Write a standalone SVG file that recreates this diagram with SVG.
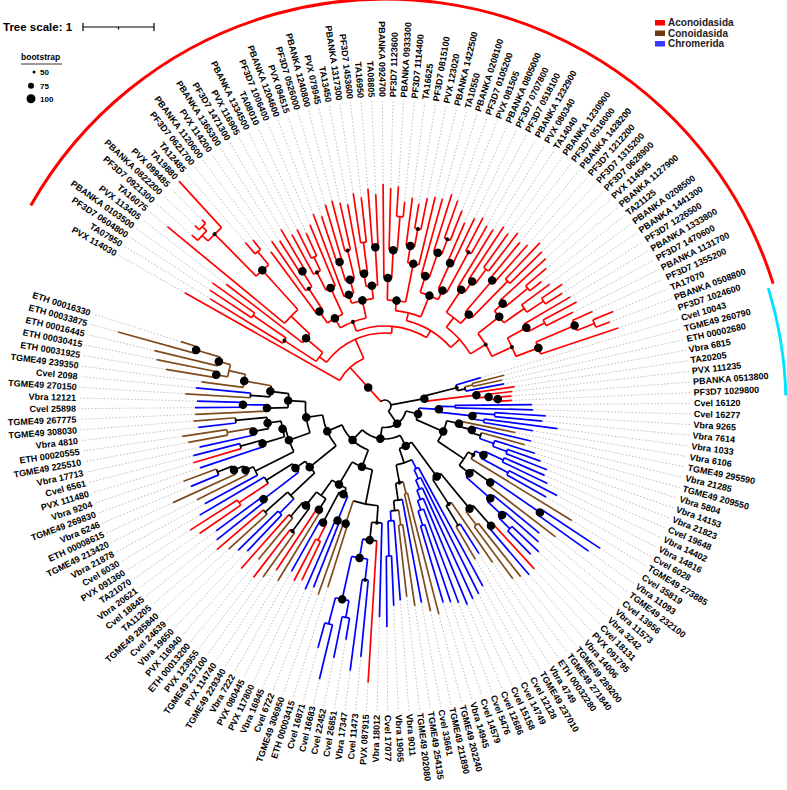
<svg xmlns="http://www.w3.org/2000/svg" width="787" height="790" viewBox="0 0 787 790">
<style>
#connectors path,#connectors circle{fill:none;stroke-width:1.7}
.k{stroke:#000}.r{stroke:#f00}.b{stroke:#00f}.n{stroke:#7f4a1c}
.d{fill:none;stroke:#a6a6a6;stroke-width:.7;stroke-dasharray:1.5 1.9}
text{font-family:"Liberation Sans",Arial,sans-serif;font-weight:bold;fill:#000}
#leaves text{font-size:9px}
.l{text-anchor:end}
.lg{font-size:10px;fill:#222}
</style>
<rect width="787" height="790" fill="#fff"/>
<g id="legend">
<text x="3" y="31" font-size="11.5">Tree scale: 1</text>
<path d="M83 27H154M83 23V31M154 23V31M118.5 27V29.5" stroke="#000" stroke-width="1.2" fill="none"/>
<text x="21" y="60" font-size="8.5">bootstrap</text>
<path d="M21 64H62" stroke="#000" stroke-width=".8"/>
<circle cx="34" cy="72" r="1.5"/><circle cx="31" cy="85.7" r="3"/><circle cx="31" cy="98.7" r="4.5"/>
<text x="40" y="75" font-size="8">50</text><text x="40" y="89" font-size="8">75</text><text x="40" y="102" font-size="8">100</text>
<rect x="655" y="20" width="10" height="5.5" fill="#f00"/><text class="lg" x="668" y="25.5">Aconoidasida</text>
<rect x="655" y="30.5" width="10" height="5.5" fill="#6b3a12"/><text class="lg" x="668" y="36.5">Conoidasida</text>
<rect x="655" y="41" width="10" height="5.5" fill="#3a3aff"/><text class="lg" x="668" y="47">Chromerida</text>
</g>
<g id="clade-arcs" transform="translate(385,406)" fill="none" stroke-width="3">
<circle r="407" pathLength="360" stroke-dasharray="133 360" transform="rotate(209.5)" stroke="#f00"/>
<circle r="401" pathLength="360" stroke-dasharray="15.6 360" transform="rotate(342.9)" stroke="#00e5ff"/>
</g>
<g id="connectors" transform="translate(385,406)">
<g class="r">
<path d="M6 0H52" transform="rotate(227.75)"/><path d="M52 0H230" transform="rotate(209.5)"/><path d="M52 0H73" transform="rotate(246)"/><path d="M73 0H82" transform="rotate(216.8)"/><path d="M82 0H120" transform="rotate(213)"/><path d="M120 0H205" transform="rotate(211.5)"/><path d="M120 0H160" transform="rotate(214.5)"/><path d="M160 0H210" transform="rotate(213.5)"/><path d="M160 0H212" transform="rotate(215.5)"/><path d="M82 0H104" transform="rotate(220.6)"/><path d="M104 0H200" transform="rotate(217.5)"/><path d="M104 0H130" transform="rotate(223.7)"/><path d="M130 0H282" transform="rotate(219.5)"/><path d="M130 0H183" transform="rotate(227.9)"/><path d="M183 0H242" transform="rotate(225.25)"/><path d="M242 0H250" transform="rotate(223)"/><path d="M250 0H258" transform="rotate(221.5)"/><path d="M250 0H256" transform="rotate(224.5)"/><path d="M256 0H262" transform="rotate(223.5)"/><path d="M256 0H261" transform="rotate(225.5)"/><path d="M242 0H305" transform="rotate(227.5)"/><path d="M183 0H200" transform="rotate(230.5)"/><path d="M200 0H215" transform="rotate(229.5)"/><path d="M200 0H212" transform="rotate(231.5)"/>
<path d="M73 0H80" transform="rotate(275.15)"/><path d="M80 0H90" transform="rotate(249.1)"/><path d="M90 0H101" transform="rotate(240.25)"/><path d="M101 0H115" transform="rotate(235.25)"/><path d="M115 0H192" transform="rotate(233.5)"/><path d="M115 0H140" transform="rotate(237)"/><path d="M140 0H200" transform="rotate(235.5)"/><path d="M140 0H158" transform="rotate(238.5)"/><path d="M158 0H196" transform="rotate(237.5)"/><path d="M158 0H205" transform="rotate(239.5)"/><path d="M101 0H130" transform="rotate(245.25)"/><path d="M130 0H150" transform="rotate(243)"/><path d="M150 0H195" transform="rotate(241.5)"/><path d="M150 0H165" transform="rotate(244.5)"/><path d="M165 0H197" transform="rotate(243.5)"/><path d="M165 0H190" transform="rotate(245.5)"/><path d="M130 0H196" transform="rotate(247.5)"/>
<path d="M90 0H108" transform="rotate(257.9)"/><path d="M108 0H117" transform="rotate(252)"/><path d="M117 0H205" transform="rotate(249.5)"/><path d="M117 0H131" transform="rotate(254.5)"/><path d="M131 0H151" transform="rotate(252.5)"/><path d="M151 0H200" transform="rotate(251.5)"/><path d="M151 0H210" transform="rotate(253.5)"/><path d="M131 0H160" transform="rotate(256.5)"/><path d="M160 0H212" transform="rotate(255.5)"/><path d="M160 0H208" transform="rotate(257.5)"/><path d="M108 0H121" transform="rotate(263.75)"/><path d="M121 0H134" transform="rotate(261)"/><path d="M134 0H205" transform="rotate(259.5)"/><path d="M134 0H165" transform="rotate(262.5)"/><path d="M165 0H215" transform="rotate(261.5)"/><path d="M165 0H210" transform="rotate(263.5)"/><path d="M121 0H159" transform="rotate(266.5)"/><path d="M159 0H218" transform="rotate(265.5)"/><path d="M159 0H212" transform="rotate(267.5)"/>
<path d="M80 0H88" transform="rotate(301.2)"/><path d="M88 0H96" transform="rotate(284.1)"/><path d="M96 0H106" transform="rotate(276.25)"/><path d="M106 0H128" transform="rotate(271.25)"/><path d="M128 0H222" transform="rotate(269.5)"/><path d="M128 0H156" transform="rotate(273)"/><path d="M156 0H218" transform="rotate(271.5)"/><path d="M156 0H190" transform="rotate(274.5)"/><path d="M190 0H220" transform="rotate(273.5)"/><path d="M190 0H205" transform="rotate(275.5)"/><path d="M106 0H145" transform="rotate(281.25)"/><path d="M145 0H162" transform="rotate(279)"/><path d="M162 0H210" transform="rotate(277.5)"/><path d="M162 0H180" transform="rotate(280.5)"/><path d="M180 0H205" transform="rotate(279.5)"/><path d="M180 0H212" transform="rotate(281.5)"/><path d="M145 0H215" transform="rotate(283.5)"/>
<path d="M96 0H119" transform="rotate(291.9)"/><path d="M119 0H136" transform="rotate(287.25)"/><path d="M136 0H215" transform="rotate(285.5)"/><path d="M136 0H162" transform="rotate(289)"/><path d="M162 0H222" transform="rotate(287.5)"/><path d="M162 0H178" transform="rotate(290.5)"/><path d="M178 0H218" transform="rotate(289.5)"/><path d="M178 0H210" transform="rotate(291.5)"/><path d="M119 0H129" transform="rotate(296.5)"/><path d="M129 0H157" transform="rotate(294.5)"/><path d="M157 0H200" transform="rotate(293.5)"/><path d="M157 0H208" transform="rotate(295.5)"/><path d="M129 0H175" transform="rotate(298.5)"/><path d="M175 0H212" transform="rotate(297.5)"/><path d="M175 0H207" transform="rotate(299.5)"/>
<path d="M88 0H100" transform="rotate(318.25)"/><path d="M100 0H112" transform="rotate(307.9)"/><path d="M112 0H139" transform="rotate(303.25)"/><path d="M139 0H207" transform="rotate(301.5)"/><path d="M139 0H152" transform="rotate(305)"/><path d="M152 0H215" transform="rotate(303.5)"/><path d="M152 0H170" transform="rotate(306.5)"/><path d="M170 0H212" transform="rotate(305.5)"/><path d="M170 0H218" transform="rotate(307.5)"/><path d="M112 0H124" transform="rotate(312.5)"/><path d="M124 0H165" transform="rotate(310.5)"/><path d="M165 0H212" transform="rotate(309.5)"/><path d="M165 0H215" transform="rotate(311.5)"/><path d="M124 0H175" transform="rotate(314.5)"/><path d="M175 0H225" transform="rotate(313.5)"/><path d="M175 0H220" transform="rotate(315.5)"/>
<path d="M100 0H118" transform="rotate(328.6)"/><path d="M118 0H145" transform="rotate(322)"/><path d="M145 0H156" transform="rotate(319)"/><path d="M156 0H218" transform="rotate(317.5)"/><path d="M156 0H185" transform="rotate(320.5)"/><path d="M185 0H212" transform="rotate(319.5)"/><path d="M185 0H200" transform="rotate(321.5)"/><path d="M145 0H170" transform="rotate(325)"/><path d="M170 0H205" transform="rotate(323.5)"/><path d="M170 0H190" transform="rotate(326.5)"/><path d="M190 0H215" transform="rotate(325.5)"/><path d="M190 0H210" transform="rotate(327.5)"/><path d="M118 0H140" transform="rotate(335.1)"/><path d="M140 0H161.5" transform="rotate(331)"/><path d="M161.5 0H215" transform="rotate(329.5)"/><path d="M161.5 0H180" transform="rotate(332.5)"/><path d="M180 0H218" transform="rotate(331.5)"/><path d="M180 0H210" transform="rotate(333.5)"/><path d="M140 0H164" transform="rotate(339.25)"/><path d="M164 0H206" transform="rotate(337)"/><path d="M206 0H228" transform="rotate(335.5)"/><path d="M206 0H225" transform="rotate(338.5)"/><path d="M225 0H247" transform="rotate(337.5)"/><path d="M225 0H240" transform="rotate(339.5)"/><path d="M164 0H246" transform="rotate(341.5)"/>
<path d="M40 0H92" transform="rotate(353.25)"/><path d="M92 0H131" transform="rotate(351.5)"/><path d="M92 0H104" transform="rotate(355)"/><path d="M104 0H128" transform="rotate(353.5)"/><path d="M104 0H113" transform="rotate(356.5)"/><path d="M113 0H127" transform="rotate(355.5)"/><path d="M113 0H127" transform="rotate(357.5)"/>
<path d="M160 0H221" transform="rotate(47.5)"/><path d="M135 0H277" transform="rotate(93.5)"/><path d="M132 0H150" transform="rotate(116.5)"/><path d="M150 0H193" transform="rotate(115.5)"/><path d="M150 0H197" transform="rotate(117.5)"/><path d="M123 0H197" transform="rotate(123.5)"/><path d="M155.6 0H216" transform="rotate(127.5)"/><path d="M145 0H217" transform="rotate(131.5)"/><path d="M160 0H221" transform="rotate(139.5)"/><path d="M140 0H175" transform="rotate(146.5)"/><path d="M175 0H225" transform="rotate(145.5)"/><path d="M175 0H231" transform="rotate(147.5)"/><path d="M150 0H200" transform="rotate(163.5)"/>
<circle r="52" pathLength="360" stroke-dasharray="36.5 360" transform="rotate(209.5)"/><circle r="73" pathLength="360" stroke-dasharray="58.35 360" transform="rotate(216.8)"/><circle r="82" pathLength="360" stroke-dasharray="7.6 360" transform="rotate(213)"/><circle r="120" pathLength="360" stroke-dasharray="3 360" transform="rotate(211.5)"/><circle r="160" pathLength="360" stroke-dasharray="2 360" transform="rotate(213.5)"/><circle r="104" pathLength="360" stroke-dasharray="6.2 360" transform="rotate(217.5)"/><circle r="130" pathLength="360" stroke-dasharray="8.4 360" transform="rotate(219.5)"/><circle r="183" pathLength="360" stroke-dasharray="5.25 360" transform="rotate(225.25)"/><circle r="242" pathLength="360" stroke-dasharray="4.5 360" transform="rotate(223)"/><circle r="250" pathLength="360" stroke-dasharray="3 360" transform="rotate(221.5)"/><circle r="256" pathLength="360" stroke-dasharray="2 360" transform="rotate(223.5)"/><circle r="200" pathLength="360" stroke-dasharray="2 360" transform="rotate(229.5)"/>
<circle r="80" pathLength="360" stroke-dasharray="52.1 360" transform="rotate(249.1)"/><circle r="90" pathLength="360" stroke-dasharray="17.65 360" transform="rotate(240.25)"/><circle r="101" pathLength="360" stroke-dasharray="10 360" transform="rotate(235.25)"/><circle r="115" pathLength="360" stroke-dasharray="3.5 360" transform="rotate(233.5)"/><circle r="140" pathLength="360" stroke-dasharray="3 360" transform="rotate(235.5)"/><circle r="158" pathLength="360" stroke-dasharray="2 360" transform="rotate(237.5)"/><circle r="130" pathLength="360" stroke-dasharray="4.5 360" transform="rotate(243)"/><circle r="150" pathLength="360" stroke-dasharray="3 360" transform="rotate(241.5)"/><circle r="165" pathLength="360" stroke-dasharray="2 360" transform="rotate(243.5)"/><circle r="108" pathLength="360" stroke-dasharray="11.75 360" transform="rotate(252)"/><circle r="117" pathLength="360" stroke-dasharray="5 360" transform="rotate(249.5)"/><circle r="131" pathLength="360" stroke-dasharray="4 360" transform="rotate(252.5)"/><circle r="151" pathLength="360" stroke-dasharray="2 360" transform="rotate(251.5)"/><circle r="160" pathLength="360" stroke-dasharray="2 360" transform="rotate(255.5)"/><circle r="121" pathLength="360" stroke-dasharray="5.5 360" transform="rotate(261)"/><circle r="134" pathLength="360" stroke-dasharray="3 360" transform="rotate(259.5)"/><circle r="165" pathLength="360" stroke-dasharray="2 360" transform="rotate(261.5)"/><circle r="159" pathLength="360" stroke-dasharray="2 360" transform="rotate(265.5)"/>
<circle r="88" pathLength="360" stroke-dasharray="34.15 360" transform="rotate(284.1)"/><circle r="96" pathLength="360" stroke-dasharray="15.65 360" transform="rotate(276.25)"/><circle r="106" pathLength="360" stroke-dasharray="10 360" transform="rotate(271.25)"/><circle r="128" pathLength="360" stroke-dasharray="3.5 360" transform="rotate(269.5)"/><circle r="156" pathLength="360" stroke-dasharray="3 360" transform="rotate(271.5)"/><circle r="190" pathLength="360" stroke-dasharray="2 360" transform="rotate(273.5)"/><circle r="145" pathLength="360" stroke-dasharray="4.5 360" transform="rotate(279)"/><circle r="162" pathLength="360" stroke-dasharray="3 360" transform="rotate(277.5)"/><circle r="180" pathLength="360" stroke-dasharray="2 360" transform="rotate(279.5)"/><circle r="119" pathLength="360" stroke-dasharray="9.25 360" transform="rotate(287.25)"/><circle r="136" pathLength="360" stroke-dasharray="3.5 360" transform="rotate(285.5)"/><circle r="162" pathLength="360" stroke-dasharray="3 360" transform="rotate(287.5)"/><circle r="178" pathLength="360" stroke-dasharray="2 360" transform="rotate(289.5)"/><circle r="129" pathLength="360" stroke-dasharray="4 360" transform="rotate(294.5)"/><circle r="157" pathLength="360" stroke-dasharray="2 360" transform="rotate(293.5)"/><circle r="175" pathLength="360" stroke-dasharray="2 360" transform="rotate(297.5)"/>
<circle r="100" pathLength="360" stroke-dasharray="20.7 360" transform="rotate(307.9)"/><circle r="112" pathLength="360" stroke-dasharray="9.25 360" transform="rotate(303.25)"/><circle r="139" pathLength="360" stroke-dasharray="3.5 360" transform="rotate(301.5)"/><circle r="152" pathLength="360" stroke-dasharray="3 360" transform="rotate(303.5)"/><circle r="170" pathLength="360" stroke-dasharray="2 360" transform="rotate(305.5)"/><circle r="124" pathLength="360" stroke-dasharray="4 360" transform="rotate(310.5)"/><circle r="165" pathLength="360" stroke-dasharray="2 360" transform="rotate(309.5)"/><circle r="175" pathLength="360" stroke-dasharray="2 360" transform="rotate(313.5)"/><circle r="118" pathLength="360" stroke-dasharray="13.1 360" transform="rotate(322)"/><circle r="145" pathLength="360" stroke-dasharray="6 360" transform="rotate(319)"/><circle r="156" pathLength="360" stroke-dasharray="3 360" transform="rotate(317.5)"/><circle r="185" pathLength="360" stroke-dasharray="2 360" transform="rotate(319.5)"/><circle r="170" pathLength="360" stroke-dasharray="3 360" transform="rotate(323.5)"/><circle r="190" pathLength="360" stroke-dasharray="2 360" transform="rotate(325.5)"/><circle r="140" pathLength="360" stroke-dasharray="8.25 360" transform="rotate(331)"/><circle r="161.5" pathLength="360" stroke-dasharray="3 360" transform="rotate(329.5)"/><circle r="180" pathLength="360" stroke-dasharray="2 360" transform="rotate(331.5)"/><circle r="164" pathLength="360" stroke-dasharray="4.5 360" transform="rotate(337)"/><circle r="206" pathLength="360" stroke-dasharray="3 360" transform="rotate(335.5)"/><circle r="225" pathLength="360" stroke-dasharray="2 360" transform="rotate(337.5)"/>
<circle r="92" pathLength="360" stroke-dasharray="3.5 360" transform="rotate(351.5)"/><circle r="104" pathLength="360" stroke-dasharray="3 360" transform="rotate(353.5)"/><circle r="113" pathLength="360" stroke-dasharray="2 360" transform="rotate(355.5)"/><circle r="150" pathLength="360" stroke-dasharray="2 360" transform="rotate(115.5)"/><circle r="175" pathLength="360" stroke-dasharray="2 360" transform="rotate(145.5)"/>
</g>
<g class="k">
<path d="M6 0H40" transform="rotate(349.5)"/><path d="M40 0H74" transform="rotate(345.75)"/><path d="M74 0H82" transform="rotate(348)"/><path d="M6 0H21.5" transform="rotate(55.8)"/><path d="M21.5 0H34" transform="rotate(13.55)"/><path d="M34 0H63.5" transform="rotate(23.6)"/><path d="M63.5 0H76" transform="rotate(13.45)"/><path d="M76 0H90" transform="rotate(15.4)"/><path d="M90 0H100" transform="rotate(17.25)"/><path d="M63.5 0H95" transform="rotate(33.8)"/><path d="M95 0H101" transform="rotate(29)"/><path d="M95 0H108" transform="rotate(38.6)"/><path d="M108 0H130" transform="rotate(36)"/>
<path d="M21.5 0H33" transform="rotate(98.1)"/><path d="M33 0H45" transform="rotate(62.6)"/><path d="M45 0H87.5" transform="rotate(53.75)"/><path d="M87.5 0H133" transform="rotate(50.5)"/><path d="M133 0H160" transform="rotate(48.5)"/><path d="M87.5 0H117" transform="rotate(57)"/><path d="M117 0H140" transform="rotate(58.5)"/><path d="M45 0H60" transform="rotate(71.4)"/><path d="M60 0H78" transform="rotate(79.3)"/><path d="M78 0H95" transform="rotate(82.1)"/><path d="M95 0H105" transform="rotate(84.75)"/>
<path d="M33 0H47" transform="rotate(133.6)"/><path d="M47 0H65" transform="rotate(110.8)"/><path d="M65 0H100" transform="rotate(101.25)"/><path d="M100 0H117" transform="rotate(94)"/><path d="M117 0H135" transform="rotate(96.5)"/><path d="M65 0H91" transform="rotate(120.4)"/><path d="M91 0H97.5" transform="rotate(115.25)"/><path d="M97.5 0H132" transform="rotate(118)"/><path d="M91 0H110" transform="rotate(125.5)"/><path d="M110 0H123" transform="rotate(122.5)"/><path d="M110 0H127" transform="rotate(128.5)"/><path d="M127 0H155.6" transform="rotate(126.5)"/><path d="M127 0H145" transform="rotate(130.5)"/>
<path d="M47 0H63" transform="rotate(156.35)"/><path d="M63 0H97" transform="rotate(140.9)"/><path d="M97 0H130" transform="rotate(136.5)"/><path d="M130 0H160" transform="rotate(138.5)"/><path d="M97 0H109" transform="rotate(145.25)"/><path d="M109 0H140" transform="rotate(148)"/><path d="M63 0H79.6" transform="rotate(171.8)"/><path d="M79.6 0H102" transform="rotate(160.4)"/><path d="M102 0H145" transform="rotate(153.4)"/><path d="M145 0H153.5" transform="rotate(155.25)"/><path d="M153.5 0H164" transform="rotate(157)"/><path d="M164 0H180" transform="rotate(158.5)"/><path d="M102 0H105" transform="rotate(167.4)"/><path d="M105 0H128" transform="rotate(163)"/><path d="M128 0H150" transform="rotate(164.5)"/><path d="M105 0H118.6" transform="rotate(171.75)"/><path d="M118.6 0H134" transform="rotate(169)"/><path d="M118.6 0H150" transform="rotate(174.5)"/><path d="M79.6 0H97" transform="rotate(183.2)"/><path d="M97 0H118" transform="rotate(179)"/><path d="M97 0H115.6" transform="rotate(187.3)"/><path d="M115.6 0H135" transform="rotate(184.5)"/>
<circle r="6" pathLength="360" stroke-dasharray="188.05 360" transform="rotate(227.75)"/><circle r="40" pathLength="360" stroke-dasharray="7.5 360" transform="rotate(345.75)"/><circle r="74" pathLength="360" stroke-dasharray="4.5 360" transform="rotate(343.5)"/><circle r="82" pathLength="360" stroke-dasharray="3 360" transform="rotate(346.5)"/><circle r="21.5" pathLength="360" stroke-dasharray="84.55 360" transform="rotate(13.55)"/><circle r="34" pathLength="360" stroke-dasharray="20.1 360" transform="rotate(3.5)"/><circle r="63.5" pathLength="360" stroke-dasharray="20.35 360" transform="rotate(13.45)"/><circle r="76" pathLength="360" stroke-dasharray="3.9 360" transform="rotate(11.5)"/><circle r="90" pathLength="360" stroke-dasharray="3.75 360" transform="rotate(13.5)"/><circle r="100" pathLength="360" stroke-dasharray="3.5 360" transform="rotate(15.5)"/><circle r="95" pathLength="360" stroke-dasharray="9.6 360" transform="rotate(29)"/><circle r="101" pathLength="360" stroke-dasharray="5 360" transform="rotate(26.5)"/><circle r="108" pathLength="360" stroke-dasharray="5.25 360" transform="rotate(36)"/><circle r="130" pathLength="360" stroke-dasharray="3 360" transform="rotate(34.5)"/>
<circle r="33" pathLength="360" stroke-dasharray="71 360" transform="rotate(62.6)"/><circle r="45" pathLength="360" stroke-dasharray="17.65 360" transform="rotate(53.75)"/><circle r="87.5" pathLength="360" stroke-dasharray="6.5 360" transform="rotate(50.5)"/><circle r="133" pathLength="360" stroke-dasharray="4 360" transform="rotate(48.5)"/><circle r="160" pathLength="360" stroke-dasharray="2 360" transform="rotate(47.5)"/><circle r="117" pathLength="360" stroke-dasharray="3 360" transform="rotate(55.5)"/><circle r="140" pathLength="360" stroke-dasharray="2 360" transform="rotate(57.5)"/><circle r="60" pathLength="360" stroke-dasharray="15.8 360" transform="rotate(63.5)"/><circle r="78" pathLength="360" stroke-dasharray="5.6 360" transform="rotate(76.5)"/><circle r="95" pathLength="360" stroke-dasharray="5.25 360" transform="rotate(79.5)"/><circle r="105" pathLength="360" stroke-dasharray="4.5 360" transform="rotate(82.5)"/>
<circle r="47" pathLength="360" stroke-dasharray="45.55 360" transform="rotate(110.8)"/><circle r="65" pathLength="360" stroke-dasharray="19.15 360" transform="rotate(101.25)"/><circle r="100" pathLength="360" stroke-dasharray="14.5 360" transform="rotate(94)"/><circle r="117" pathLength="360" stroke-dasharray="5 360" transform="rotate(91.5)"/><circle r="135" pathLength="360" stroke-dasharray="6 360" transform="rotate(93.5)"/><circle r="91" pathLength="360" stroke-dasharray="10.25 360" transform="rotate(115.25)"/><circle r="97.5" pathLength="360" stroke-dasharray="5.5 360" transform="rotate(112.5)"/><circle r="132" pathLength="360" stroke-dasharray="3 360" transform="rotate(116.5)"/><circle r="110" pathLength="360" stroke-dasharray="6 360" transform="rotate(122.5)"/><circle r="123" pathLength="360" stroke-dasharray="2 360" transform="rotate(121.5)"/><circle r="127" pathLength="360" stroke-dasharray="4 360" transform="rotate(126.5)"/><circle r="155.6" pathLength="360" stroke-dasharray="2 360" transform="rotate(125.5)"/><circle r="145" pathLength="360" stroke-dasharray="2 360" transform="rotate(129.5)"/>
<circle r="63" pathLength="360" stroke-dasharray="30.9 360" transform="rotate(140.9)"/><circle r="97" pathLength="360" stroke-dasharray="8.75 360" transform="rotate(136.5)"/><circle r="130" pathLength="360" stroke-dasharray="4 360" transform="rotate(134.5)"/><circle r="160" pathLength="360" stroke-dasharray="2 360" transform="rotate(137.5)"/><circle r="109" pathLength="360" stroke-dasharray="5.5 360" transform="rotate(142.5)"/><circle r="140" pathLength="360" stroke-dasharray="3 360" transform="rotate(146.5)"/><circle r="79.6" pathLength="360" stroke-dasharray="22.8 360" transform="rotate(160.4)"/><circle r="102" pathLength="360" stroke-dasharray="14 360" transform="rotate(153.4)"/><circle r="145" pathLength="360" stroke-dasharray="3.75 360" transform="rotate(151.5)"/><circle r="153.5" pathLength="360" stroke-dasharray="3.5 360" transform="rotate(153.5)"/><circle r="164" pathLength="360" stroke-dasharray="3 360" transform="rotate(155.5)"/><circle r="180" pathLength="360" stroke-dasharray="2 360" transform="rotate(157.5)"/><circle r="105" pathLength="360" stroke-dasharray="8.75 360" transform="rotate(163)"/><circle r="128" pathLength="360" stroke-dasharray="3 360" transform="rotate(161.5)"/><circle r="150" pathLength="360" stroke-dasharray="2 360" transform="rotate(163.5)"/><circle r="118.6" pathLength="360" stroke-dasharray="5.5 360" transform="rotate(169)"/><circle r="134" pathLength="360" stroke-dasharray="3 360" transform="rotate(167.5)"/><circle r="150" pathLength="360" stroke-dasharray="2 360" transform="rotate(173.5)"/><circle r="97" pathLength="360" stroke-dasharray="8.3 360" transform="rotate(179)"/><circle r="118" pathLength="360" stroke-dasharray="3 360" transform="rotate(177.5)"/><circle r="115.6" pathLength="360" stroke-dasharray="5.6 360" transform="rotate(184.5)"/><circle r="135" pathLength="360" stroke-dasharray="2 360" transform="rotate(183.5)"/>
</g>
<g class="b">
<path d="M74 0H100" transform="rotate(343.5)"/><path d="M82 0H121" transform="rotate(349.5)"/><path d="M34 0H54" transform="rotate(3.5)"/><path d="M54 0H70" transform="rotate(0.5)"/><path d="M70 0H147" transform="rotate(359.5)"/><path d="M70 0H148" transform="rotate(1.5)"/><path d="M54 0H88" transform="rotate(6.5)"/><path d="M88 0H110" transform="rotate(4.5)"/><path d="M110 0H161" transform="rotate(3.5)"/><path d="M110 0H158" transform="rotate(5.5)"/><path d="M88 0H100" transform="rotate(8.5)"/><path d="M100 0H174" transform="rotate(7.5)"/><path d="M100 0H150" transform="rotate(9.5)"/><path d="M90 0H150" transform="rotate(13.5)"/><path d="M100 0H115" transform="rotate(19)"/><path d="M115 0H157" transform="rotate(17.5)"/><path d="M115 0H130" transform="rotate(20.5)"/><path d="M130 0H165" transform="rotate(19.5)"/><path d="M130 0H174" transform="rotate(21.5)"/>
<path d="M101 0H110" transform="rotate(26.5)"/><path d="M110 0H130" transform="rotate(24.5)"/><path d="M130 0H174" transform="rotate(23.5)"/><path d="M130 0H180" transform="rotate(25.5)"/><path d="M110 0H140" transform="rotate(28.5)"/><path d="M140 0H194" transform="rotate(27.5)"/><path d="M140 0H185" transform="rotate(29.5)"/><path d="M130 0H188" transform="rotate(34.5)"/><path d="M188 0H258" transform="rotate(33.5)"/><path d="M188 0H250" transform="rotate(35.5)"/><path d="M108 0H140" transform="rotate(41.25)"/><path d="M140 0H200" transform="rotate(39.5)"/><path d="M140 0H160" transform="rotate(43)"/><path d="M160 0H205" transform="rotate(41.5)"/><path d="M160 0H175" transform="rotate(44.5)"/><path d="M175 0H212" transform="rotate(43.5)"/><path d="M175 0H208" transform="rotate(45.5)"/>
<path d="M160 0H222" transform="rotate(49.5)"/><path d="M140 0H175" transform="rotate(57.5)"/><path d="M60 0H70" transform="rotate(63.5)"/><path d="M70 0H205" transform="rotate(61.5)"/><path d="M70 0H80" transform="rotate(65.4)"/><path d="M80 0H210" transform="rotate(63.5)"/><path d="M80 0H90" transform="rotate(67.4)"/><path d="M90 0H212" transform="rotate(65.5)"/><path d="M90 0H100" transform="rotate(69.25)"/><path d="M100 0H215" transform="rotate(67.5)"/><path d="M100 0H110" transform="rotate(71)"/><path d="M110 0H210" transform="rotate(69.5)"/><path d="M110 0H125" transform="rotate(72.5)"/><path d="M125 0H207" transform="rotate(71.5)"/><path d="M125 0H205" transform="rotate(73.5)"/><path d="M95 0H200" transform="rotate(79.5)"/><path d="M105 0H115" transform="rotate(87)"/><path d="M115 0H195" transform="rotate(85.5)"/><path d="M115 0H150" transform="rotate(88.5)"/><path d="M150 0H200" transform="rotate(87.5)"/><path d="M150 0H221" transform="rotate(89.5)"/>
<path d="M117 0H211" transform="rotate(91.5)"/><path d="M135 0H154" transform="rotate(99.5)"/><path d="M154 0H175" transform="rotate(96.5)"/><path d="M175 0H252" transform="rotate(95.5)"/><path d="M175 0H267" transform="rotate(97.5)"/><path d="M154 0H198" transform="rotate(102.5)"/><path d="M198 0H215" transform="rotate(100.5)"/><path d="M215 0H237" transform="rotate(99.5)"/><path d="M215 0H257" transform="rotate(101.5)"/><path d="M198 0H225" transform="rotate(104.5)"/><path d="M225 0H281" transform="rotate(103.5)"/><path d="M225 0H251" transform="rotate(105.5)"/><path d="M97.5 0H124" transform="rotate(112.5)"/><path d="M124 0H195" transform="rotate(111.5)"/><path d="M124 0H200" transform="rotate(113.5)"/><path d="M132 0H190" transform="rotate(119.5)"/>
<path d="M130 0H150" transform="rotate(134.5)"/><path d="M150 0H200" transform="rotate(133.5)"/><path d="M150 0H206" transform="rotate(135.5)"/><path d="M109 0H153" transform="rotate(142.5)"/><path d="M153 0H215" transform="rotate(141.5)"/><path d="M153 0H210" transform="rotate(143.5)"/><path d="M140 0H215" transform="rotate(149.5)"/><path d="M145 0H205" transform="rotate(151.5)"/><path d="M180 0H210" transform="rotate(157.5)"/><path d="M128 0H195" transform="rotate(161.5)"/><path d="M150 0H198" transform="rotate(165.5)"/><path d="M134 0H190" transform="rotate(167.5)"/><path d="M150 0H188" transform="rotate(173.5)"/><path d="M118 0H142" transform="rotate(180.5)"/><path d="M142 0H190" transform="rotate(179.5)"/><path d="M142 0H188" transform="rotate(181.5)"/><path d="M135 0H190" transform="rotate(185.5)"/>
<circle r="54" pathLength="360" stroke-dasharray="6 360" transform="rotate(0.5)"/><circle r="70" pathLength="360" stroke-dasharray="2 360" transform="rotate(359.5)"/><circle r="88" pathLength="360" stroke-dasharray="4 360" transform="rotate(4.5)"/><circle r="110" pathLength="360" stroke-dasharray="2 360" transform="rotate(3.5)"/><circle r="100" pathLength="360" stroke-dasharray="2 360" transform="rotate(7.5)"/><circle r="115" pathLength="360" stroke-dasharray="3 360" transform="rotate(17.5)"/><circle r="130" pathLength="360" stroke-dasharray="2 360" transform="rotate(19.5)"/><circle r="110" pathLength="360" stroke-dasharray="4 360" transform="rotate(24.5)"/><circle r="130" pathLength="360" stroke-dasharray="2 360" transform="rotate(23.5)"/><circle r="140" pathLength="360" stroke-dasharray="2 360" transform="rotate(27.5)"/><circle r="188" pathLength="360" stroke-dasharray="2 360" transform="rotate(33.5)"/><circle r="140" pathLength="360" stroke-dasharray="3.5 360" transform="rotate(39.5)"/><circle r="160" pathLength="360" stroke-dasharray="3 360" transform="rotate(41.5)"/><circle r="175" pathLength="360" stroke-dasharray="2 360" transform="rotate(43.5)"/>
<circle r="70" pathLength="360" stroke-dasharray="3.9 360" transform="rotate(61.5)"/><circle r="80" pathLength="360" stroke-dasharray="3.9 360" transform="rotate(63.5)"/><circle r="90" pathLength="360" stroke-dasharray="3.75 360" transform="rotate(65.5)"/><circle r="100" pathLength="360" stroke-dasharray="3.5 360" transform="rotate(67.5)"/><circle r="110" pathLength="360" stroke-dasharray="3 360" transform="rotate(69.5)"/><circle r="125" pathLength="360" stroke-dasharray="2 360" transform="rotate(71.5)"/><circle r="115" pathLength="360" stroke-dasharray="3 360" transform="rotate(85.5)"/><circle r="150" pathLength="360" stroke-dasharray="2 360" transform="rotate(87.5)"/><circle r="154" pathLength="360" stroke-dasharray="6 360" transform="rotate(96.5)"/><circle r="175" pathLength="360" stroke-dasharray="2 360" transform="rotate(95.5)"/><circle r="198" pathLength="360" stroke-dasharray="4 360" transform="rotate(100.5)"/><circle r="215" pathLength="360" stroke-dasharray="2 360" transform="rotate(99.5)"/><circle r="225" pathLength="360" stroke-dasharray="2 360" transform="rotate(103.5)"/><circle r="124" pathLength="360" stroke-dasharray="2 360" transform="rotate(111.5)"/><circle r="150" pathLength="360" stroke-dasharray="2 360" transform="rotate(133.5)"/><circle r="153" pathLength="360" stroke-dasharray="2 360" transform="rotate(141.5)"/><circle r="142" pathLength="360" stroke-dasharray="2 360" transform="rotate(179.5)"/>
</g>
<g class="n">
<path d="M82 0H90" transform="rotate(346.5)"/><path d="M90 0H123" transform="rotate(345.5)"/><path d="M90 0H120" transform="rotate(347.5)"/><path d="M76 0H133" transform="rotate(11.5)"/><path d="M100 0H145" transform="rotate(15.5)"/><path d="M101 0H219" transform="rotate(31.5)"/><path d="M130 0H215" transform="rotate(37.5)"/><path d="M133 0H150" transform="rotate(52.5)"/><path d="M150 0H218" transform="rotate(51.5)"/><path d="M150 0H215" transform="rotate(53.5)"/><path d="M117 0H190" transform="rotate(55.5)"/><path d="M140 0H178" transform="rotate(59.5)"/><path d="M78 0H90" transform="rotate(76.5)"/><path d="M90 0H215" transform="rotate(75.5)"/><path d="M90 0H210" transform="rotate(77.5)"/><path d="M105 0H120" transform="rotate(82.5)"/><path d="M120 0H202" transform="rotate(81.5)"/><path d="M120 0H192" transform="rotate(83.5)"/>
<path d="M100 0H124" transform="rotate(108.5)"/><path d="M124 0H190" transform="rotate(107.5)"/><path d="M124 0H200" transform="rotate(109.5)"/><path d="M123 0H205" transform="rotate(121.5)"/><path d="M155.6 0H210" transform="rotate(125.5)"/><path d="M145 0H199" transform="rotate(129.5)"/><path d="M160 0H212" transform="rotate(137.5)"/><path d="M153.5 0H210" transform="rotate(153.5)"/><path d="M164 0H233" transform="rotate(155.5)"/><path d="M180 0H215" transform="rotate(159.5)"/><path d="M134 0H160" transform="rotate(170.5)"/><path d="M160 0H200" transform="rotate(169.5)"/><path d="M160 0H205" transform="rotate(171.5)"/><path d="M150 0H192" transform="rotate(175.5)"/><path d="M118 0H190" transform="rotate(177.5)"/><path d="M135 0H200" transform="rotate(183.5)"/><path d="M115.6 0H143" transform="rotate(190.1)"/><path d="M143 0H185" transform="rotate(187.5)"/><path d="M143 0H160" transform="rotate(192.75)"/><path d="M160 0H171.6" transform="rotate(190.5)"/><path d="M171.6 0H222" transform="rotate(189.5)"/><path d="M171.6 0H233" transform="rotate(191.5)"/><path d="M160 0H172" transform="rotate(195)"/><path d="M172 0H237" transform="rotate(193.5)"/><path d="M172 0H197" transform="rotate(196.5)"/><path d="M197 0H277" transform="rotate(195.5)"/><path d="M197 0H214" transform="rotate(197.5)"/>
<circle r="90" pathLength="360" stroke-dasharray="2 360" transform="rotate(345.5)"/><circle r="150" pathLength="360" stroke-dasharray="2 360" transform="rotate(51.5)"/><circle r="90" pathLength="360" stroke-dasharray="2 360" transform="rotate(75.5)"/><circle r="120" pathLength="360" stroke-dasharray="2 360" transform="rotate(81.5)"/><circle r="124" pathLength="360" stroke-dasharray="2 360" transform="rotate(107.5)"/><circle r="160" pathLength="360" stroke-dasharray="2 360" transform="rotate(169.5)"/><circle r="143" pathLength="360" stroke-dasharray="5.25 360" transform="rotate(187.5)"/><circle r="160" pathLength="360" stroke-dasharray="4.5 360" transform="rotate(190.5)"/><circle r="171.6" pathLength="360" stroke-dasharray="2 360" transform="rotate(189.5)"/><circle r="172" pathLength="360" stroke-dasharray="3 360" transform="rotate(193.5)"/><circle r="197" pathLength="360" stroke-dasharray="2 360" transform="rotate(195.5)"/>
</g>
</g>
<g id="bootstrap" transform="translate(385,406)" fill="#000">
<circle cx="25" r="4.3" transform="rotate(227.75)"/><circle cx="104" r="4.3" transform="rotate(220.6)"/><circle cx="183" r="4.3" transform="rotate(227.9)"/><circle cx="101" r="4.3" transform="rotate(240.25)"/><circle cx="115" r="4.3" transform="rotate(235.25)"/><circle cx="158" r="4.3" transform="rotate(238.5)"/><circle cx="130" r="4.3" transform="rotate(245.25)"/><circle cx="108" r="4.3" transform="rotate(257.9)"/><circle cx="117" r="4.3" transform="rotate(252)"/><circle cx="131" r="4.3" transform="rotate(254.5)"/><circle cx="151" r="4.3" transform="rotate(252.5)"/><circle cx="121" r="4.3" transform="rotate(263.75)"/><circle cx="134" r="4.3" transform="rotate(261)"/><circle cx="159" r="4.3" transform="rotate(266.5)"/><circle cx="106" r="4.3" transform="rotate(276.25)"/><circle cx="128" r="4.3" transform="rotate(271.25)"/><circle cx="156" r="4.3" transform="rotate(273)"/><circle cx="145" r="4.3" transform="rotate(281.25)"/><circle cx="162" r="4.3" transform="rotate(279)"/><circle cx="119" r="4.3" transform="rotate(291.9)"/><circle cx="136" r="4.3" transform="rotate(287.25)"/><circle cx="162" r="4.3" transform="rotate(289)"/><circle cx="129" r="4.3" transform="rotate(296.5)"/><circle cx="157" r="4.3" transform="rotate(294.5)"/><circle cx="139" r="4.3" transform="rotate(303.25)"/><circle cx="152" r="4.3" transform="rotate(305)"/><circle cx="124" r="4.3" transform="rotate(312.5)"/><circle cx="165" r="4.3" transform="rotate(310.5)"/><circle cx="145" r="4.3" transform="rotate(322)"/><circle cx="156" r="4.3" transform="rotate(319)"/><circle cx="161.5" r="4.3" transform="rotate(331)"/><circle cx="164" r="4.3" transform="rotate(339.25)"/><circle cx="206" r="4.3" transform="rotate(337)"/>
<circle cx="242" r="2" transform="rotate(225.25)"/><circle cx="120" r="2" transform="rotate(213)"/><circle cx="150" r="2" transform="rotate(243)"/><circle cx="140" r="2" transform="rotate(237)"/><circle cx="160" r="2" transform="rotate(256.5)"/><circle cx="90" r="2" transform="rotate(249.1)"/><circle cx="180" r="2" transform="rotate(280.5)"/><circle cx="175" r="2" transform="rotate(298.5)"/><circle cx="178" r="2" transform="rotate(290.5)"/><circle cx="118" r="2" transform="rotate(328.6)"/><circle cx="140" r="2" transform="rotate(335.1)"/>
<circle cx="40" r="4.3" transform="rotate(349.5)"/><circle cx="92" r="4.3" transform="rotate(353.25)"/><circle cx="104" r="4.3" transform="rotate(355)"/><circle cx="113" r="4.3" transform="rotate(356.5)"/><circle cx="74" r="2" transform="rotate(345.75)"/>
<circle cx="21.5" r="4.3" transform="rotate(55.8)"/><circle cx="34" r="4.3" transform="rotate(13.55)"/><circle cx="54" r="4.3" transform="rotate(3.5)"/><circle cx="88" r="4.3" transform="rotate(6.5)"/><circle cx="63.5" r="4.3" transform="rotate(23.6)"/><circle cx="76" r="4.3" transform="rotate(13.45)"/><circle cx="90" r="4.3" transform="rotate(15.4)"/><circle cx="110" r="4.3" transform="rotate(26.5)"/><circle cx="108" r="4.3" transform="rotate(38.6)"/><circle cx="130" r="4.3" transform="rotate(36)"/><circle cx="188" r="4.3" transform="rotate(34.5)"/><circle cx="140" r="4.3" transform="rotate(41.25)"/><circle cx="160" r="4.3" transform="rotate(43)"/><circle cx="101" r="2" transform="rotate(29)"/>
<circle cx="33" r="4.3" transform="rotate(98.1)"/><circle cx="45" r="4.3" transform="rotate(62.6)"/><circle cx="87.5" r="4.3" transform="rotate(53.75)"/><circle cx="133" r="4.3" transform="rotate(50.5)"/><circle cx="160" r="4.3" transform="rotate(48.5)"/><circle cx="117" r="2" transform="rotate(57)"/><circle cx="78" r="2" transform="rotate(79.3)"/>
<circle cx="47" r="4.3" transform="rotate(133.6)"/><circle cx="65" r="4.3" transform="rotate(110.8)"/><circle cx="135" r="4.3" transform="rotate(96.5)"/><circle cx="154" r="4.3" transform="rotate(99.5)"/><circle cx="198" r="4.3" transform="rotate(102.5)"/><circle cx="124" r="4.3" transform="rotate(108.5)"/><circle cx="91" r="4.3" transform="rotate(120.4)"/><circle cx="97.5" r="4.3" transform="rotate(115.25)"/><circle cx="124" r="4.3" transform="rotate(112.5)"/><circle cx="132" r="4.3" transform="rotate(118)"/><circle cx="123" r="4.3" transform="rotate(122.5)"/><circle cx="127" r="4.3" transform="rotate(128.5)"/><circle cx="117" r="2" transform="rotate(94)"/><circle cx="175" r="2" transform="rotate(96.5)"/><circle cx="155.6" r="2" transform="rotate(126.5)"/>
<circle cx="63" r="4.3" transform="rotate(156.35)"/><circle cx="97" r="4.3" transform="rotate(140.9)"/><circle cx="109" r="4.3" transform="rotate(145.25)"/><circle cx="153" r="4.3" transform="rotate(142.5)"/><circle cx="79.6" r="4.3" transform="rotate(171.8)"/><circle cx="102" r="4.3" transform="rotate(160.4)"/><circle cx="153.5" r="4.3" transform="rotate(155.25)"/><circle cx="164" r="4.3" transform="rotate(157)"/><circle cx="105" r="4.3" transform="rotate(167.4)"/><circle cx="128" r="4.3" transform="rotate(163)"/><circle cx="118.6" r="4.3" transform="rotate(171.75)"/><circle cx="134" r="4.3" transform="rotate(169)"/><circle cx="97" r="4.3" transform="rotate(183.2)"/><circle cx="118" r="4.3" transform="rotate(179)"/><circle cx="142" r="4.3" transform="rotate(180.5)"/><circle cx="115.6" r="4.3" transform="rotate(187.3)"/><circle cx="143" r="4.3" transform="rotate(190.1)"/><circle cx="171.6" r="4.3" transform="rotate(190.5)"/><circle cx="172" r="4.3" transform="rotate(195)"/><circle cx="197" r="4.3" transform="rotate(196.5)"/>
</g>
<g id="leaves" transform="translate(385,406)">
<g id="leaf1" transform="rotate(209.5)"><path class="d" d="M230 0H306"/><text class="l" transform="rotate(180)" x="-309" y="3">PVX 114030</text></g>
<g id="leaf2" transform="rotate(211.5)"><path class="d" d="M205 0H306"/><text class="l" transform="rotate(180)" x="-309" y="3">TA07950</text></g>
<g id="leaf3" transform="rotate(213.5)"><path class="d" d="M210 0H306"/><text class="l" transform="rotate(180)" x="-309" y="3">PF3D7 0604800</text></g>
<g id="leaf4" transform="rotate(215.5)"><path class="d" d="M212 0H306"/><text class="l" transform="rotate(180)" x="-309" y="3">PBANKA 0103500</text></g>
<g id="leaf5" transform="rotate(217.5)"><path class="d" d="M200 0H306"/><text class="l" transform="rotate(180)" x="-309" y="3">PVX 113405</text></g>
<g id="leaf6" transform="rotate(219.5)"><path class="d" d="M282 0H306"/><text class="l" transform="rotate(180)" x="-309" y="3">TA16075</text></g>
<g id="leaf7" transform="rotate(221.5)"><path class="d" d="M258 0H306"/><text class="l" transform="rotate(180)" x="-309" y="3">PF3D7 0921300</text></g>
<g id="leaf8" transform="rotate(223.5)"><path class="d" d="M262 0H306"/><text class="l" transform="rotate(180)" x="-309" y="3">PBANKA 0822200</text></g>
<g id="leaf9" transform="rotate(225.5)"><path class="d" d="M261 0H306"/><text class="l" transform="rotate(180)" x="-309" y="3">PVX 099485</text></g>
<g id="leaf10" transform="rotate(227.5)"><text class="l" transform="rotate(180)" x="-309" y="3">TA19880</text></g>
<g id="leaf11" transform="rotate(229.5)"><path class="d" d="M215 0H306"/><text class="l" transform="rotate(180)" x="-309" y="3">TA12485</text></g>
<g id="leaf12" transform="rotate(231.5)"><path class="d" d="M212 0H306"/><text class="l" transform="rotate(180)" x="-309" y="3">PF3D7 0621700</text></g>
<g id="leaf13" transform="rotate(233.5)"><path class="d" d="M192 0H306"/><text class="l" transform="rotate(180)" x="-309" y="3">PBANKA 1120600</text></g>
<g id="leaf14" transform="rotate(235.5)"><path class="d" d="M200 0H306"/><text class="l" transform="rotate(180)" x="-309" y="3">PVX 114200</text></g>
<g id="leaf15" transform="rotate(237.5)"><path class="d" d="M196 0H306"/><text class="l" transform="rotate(180)" x="-309" y="3">PBANKA 1365300</text></g>
<g id="leaf16" transform="rotate(239.5)"><path class="d" d="M205 0H306"/><text class="l" transform="rotate(180)" x="-309" y="3">PF3D7 1471300</text></g>
<g id="leaf17" transform="rotate(241.5)"><path class="d" d="M195 0H306"/><text class="l" transform="rotate(180)" x="-309" y="3">PVX 116905</text></g>
<g id="leaf18" transform="rotate(243.5)"><path class="d" d="M197 0H306"/><text class="l" transform="rotate(180)" x="-309" y="3">PBANKA 1334500</text></g>
<g id="leaf19" transform="rotate(245.5)"><path class="d" d="M190 0H306"/><text class="l" transform="rotate(180)" x="-309" y="3">TA08010</text></g>
<g id="leaf20" transform="rotate(247.5)"><path class="d" d="M196 0H306"/><text class="l" transform="rotate(180)" x="-309" y="3">PF3D7 1006400</text></g>
<g id="leaf21" transform="rotate(249.5)"><path class="d" d="M205 0H306"/><text class="l" transform="rotate(180)" x="-309" y="3">PBANKA 1204600</text></g>
<g id="leaf22" transform="rotate(251.5)"><path class="d" d="M200 0H306"/><text class="l" transform="rotate(180)" x="-309" y="3">PVX 094515</text></g>
<g id="leaf23" transform="rotate(253.5)"><path class="d" d="M210 0H306"/><text class="l" transform="rotate(180)" x="-309" y="3">PF3D7 0526000</text></g>
<g id="leaf24" transform="rotate(255.5)"><path class="d" d="M212 0H306"/><text class="l" transform="rotate(180)" x="-309" y="3">PBANKA 1240800</text></g>
<g id="leaf25" transform="rotate(257.5)"><path class="d" d="M208 0H306"/><text class="l" transform="rotate(180)" x="-309" y="3">PVX 079945</text></g>
<g id="leaf26" transform="rotate(259.5)"><path class="d" d="M205 0H306"/><text class="l" transform="rotate(180)" x="-309" y="3">TA13450</text></g>
<g id="leaf27" transform="rotate(261.5)"><path class="d" d="M215 0H306"/><text class="l" transform="rotate(180)" x="-309" y="3">PBANKA 1317300</text></g>
<g id="leaf28" transform="rotate(263.5)"><path class="d" d="M210 0H306"/><text class="l" transform="rotate(180)" x="-309" y="3">PF3D7 1453600</text></g>
<g id="leaf29" transform="rotate(265.5)"><path class="d" d="M218 0H306"/><text class="l" transform="rotate(180)" x="-309" y="3">TA16950</text></g>
<g id="leaf30" transform="rotate(267.5)"><path class="d" d="M212 0H306"/><text class="l" transform="rotate(180)" x="-309" y="3">TA08805</text></g>
<g id="leaf31" transform="rotate(269.5)"><path class="d" d="M222 0H306"/><text class="l" transform="rotate(180)" x="-309" y="3">PBANKA 0924700</text></g>
<g id="leaf32" transform="rotate(271.5)"><path class="d" d="M218 0H306"/><text x="309" y="3">PF3D7 1123600</text></g>
<g id="leaf33" transform="rotate(273.5)"><path class="d" d="M220 0H306"/><text x="309" y="3">PBANKA 0933300</text></g>
<g id="leaf34" transform="rotate(275.5)"><path class="d" d="M205 0H306"/><text x="309" y="3">PF3D7 1114400</text></g>
<g id="leaf35" transform="rotate(277.5)"><path class="d" d="M210 0H306"/><text x="309" y="3">TA16625</text></g>
<g id="leaf36" transform="rotate(279.5)"><path class="d" d="M205 0H306"/><text x="309" y="3">PF3D7 0815100</text></g>
<g id="leaf37" transform="rotate(281.5)"><path class="d" d="M212 0H306"/><text x="309" y="3">PVX 123020</text></g>
<g id="leaf38" transform="rotate(283.5)"><path class="d" d="M215 0H306"/><text x="309" y="3">PBANKA 1422500</text></g>
<g id="leaf39" transform="rotate(285.5)"><path class="d" d="M215 0H306"/><text x="309" y="3">TA10550</text></g>
<g id="leaf40" transform="rotate(287.5)"><path class="d" d="M222 0H306"/><text x="309" y="3">PBANKA 0208100</text></g>
<g id="leaf41" transform="rotate(289.5)"><path class="d" d="M218 0H306"/><text x="309" y="3">PF3D7 0105200</text></g>
<g id="leaf42" transform="rotate(291.5)"><path class="d" d="M210 0H306"/><text x="309" y="3">PVX 081505</text></g>
<g id="leaf43" transform="rotate(293.5)"><path class="d" d="M200 0H306"/><text x="309" y="3">PBANKA 0805000</text></g>
<g id="leaf44" transform="rotate(295.5)"><path class="d" d="M208 0H306"/><text x="309" y="3">PF3D7 0707800</text></g>
<g id="leaf45" transform="rotate(297.5)"><path class="d" d="M212 0H306"/><text x="309" y="3">PF3D7 0518100</text></g>
<g id="leaf46" transform="rotate(299.5)"><path class="d" d="M207 0H306"/><text x="309" y="3">PBANKA 1232900</text></g>
<g id="leaf47" transform="rotate(301.5)"><path class="d" d="M207 0H306"/><text x="309" y="3">PVX 080340</text></g>
<g id="leaf48" transform="rotate(303.5)"><path class="d" d="M215 0H306"/><text x="309" y="3">TA14040</text></g>
<g id="leaf49" transform="rotate(305.5)"><path class="d" d="M212 0H306"/><text x="309" y="3">PBANKA 1230900</text></g>
<g id="leaf50" transform="rotate(307.5)"><path class="d" d="M218 0H306"/><text x="309" y="3">PF3D7 0516000</text></g>
<g id="leaf51" transform="rotate(309.5)"><path class="d" d="M212 0H306"/><text x="309" y="3">PBANKA 1428200</text></g>
<g id="leaf52" transform="rotate(311.5)"><path class="d" d="M215 0H306"/><text x="309" y="3">PF3D7 1212200</text></g>
<g id="leaf53" transform="rotate(313.5)"><path class="d" d="M225 0H306"/><text x="309" y="3">PF3D7 1315200</text></g>
<g id="leaf54" transform="rotate(315.5)"><path class="d" d="M220 0H306"/><text x="309" y="3">PF3D7 0628900</text></g>
<g id="leaf55" transform="rotate(317.5)"><path class="d" d="M218 0H306"/><text x="309" y="3">PVX 114545</text></g>
<g id="leaf56" transform="rotate(319.5)"><path class="d" d="M212 0H306"/><text x="309" y="3">PBANKA 1127900</text></g>
<g id="leaf57" transform="rotate(321.5)"><path class="d" d="M200 0H306"/><text x="309" y="3">TA21125</text></g>
<g id="leaf58" transform="rotate(323.5)"><path class="d" d="M205 0H306"/><text x="309" y="3">PBANKA 0208500</text></g>
<g id="leaf59" transform="rotate(325.5)"><path class="d" d="M215 0H306"/><text x="309" y="3">PBANKA 1441300</text></g>
<g id="leaf60" transform="rotate(327.5)"><path class="d" d="M210 0H306"/><text x="309" y="3">PF3D7 1226500</text></g>
<g id="leaf61" transform="rotate(329.5)"><path class="d" d="M215 0H306"/><text x="309" y="3">PBANKA 1333800</text></g>
<g id="leaf62" transform="rotate(331.5)"><path class="d" d="M218 0H306"/><text x="309" y="3">PF3D7 1470600</text></g>
<g id="leaf63" transform="rotate(333.5)"><path class="d" d="M210 0H306"/><text x="309" y="3">PBANKA 1131700</text></g>
<g id="leaf64" transform="rotate(335.5)"><path class="d" d="M228 0H306"/><text x="309" y="3">PF3D7 1355200</text></g>
<g id="leaf65" transform="rotate(337.5)"><path class="d" d="M247 0H306"/><text x="309" y="3">TA17070</text></g>
<g id="leaf66" transform="rotate(339.5)"><path class="d" d="M240 0H306"/><text x="309" y="3">PBANKA 0508800</text></g>
<g id="leaf67" transform="rotate(341.5)"><path class="d" d="M246 0H306"/><text x="309" y="3">PF3D7 1024600</text></g>
<g id="leaf68" transform="rotate(343.5)"><path class="d" d="M100 0H306"/><text x="309" y="3">Cvel 10043</text></g>
<g id="leaf69" transform="rotate(345.5)"><path class="d" d="M123 0H306"/><text x="309" y="3">TGME49 260790</text></g>
<g id="leaf70" transform="rotate(347.5)"><path class="d" d="M120 0H306"/><text x="309" y="3">ETH 00002680</text></g>
<g id="leaf71" transform="rotate(349.5)"><path class="d" d="M121 0H306"/><text x="309" y="3">Vbra 6815</text></g>
<g id="leaf72" transform="rotate(351.5)"><path class="d" d="M131 0H306"/><text x="309" y="3">TA20205</text></g>
<g id="leaf73" transform="rotate(353.5)"><path class="d" d="M128 0H306"/><text x="309" y="3">PVX 111235</text></g>
<g id="leaf74" transform="rotate(355.5)"><path class="d" d="M127 0H306"/><text x="309" y="3">PBANKA 0513800</text></g>
<g id="leaf75" transform="rotate(357.5)"><path class="d" d="M127 0H306"/><text x="309" y="3">PF3D7 1029800</text></g>
<g id="leaf76" transform="rotate(359.5)"><path class="d" d="M147 0H306"/><text x="309" y="3">Cvel 16120</text></g>
<g id="leaf77" transform="rotate(1.5)"><path class="d" d="M148 0H306"/><text x="309" y="3">Cvel 16277</text></g>
<g id="leaf78" transform="rotate(3.5)"><path class="d" d="M161 0H306"/><text x="309" y="3">Vbra 9265</text></g>
<g id="leaf79" transform="rotate(5.5)"><path class="d" d="M158 0H306"/><text x="309" y="3">Vbra 7614</text></g>
<g id="leaf80" transform="rotate(7.5)"><path class="d" d="M174 0H306"/><text x="309" y="3">Vbra 1033</text></g>
<g id="leaf81" transform="rotate(9.5)"><path class="d" d="M150 0H306"/><text x="309" y="3">Vbra 6106</text></g>
<g id="leaf82" transform="rotate(11.5)"><path class="d" d="M133 0H306"/><text x="309" y="3">TGME49 295590</text></g>
<g id="leaf83" transform="rotate(13.5)"><path class="d" d="M150 0H306"/><text x="309" y="3">Vbra 21285</text></g>
<g id="leaf84" transform="rotate(15.5)"><path class="d" d="M145 0H306"/><text x="309" y="3">TGME49 209550</text></g>
<g id="leaf85" transform="rotate(17.5)"><path class="d" d="M157 0H306"/><text x="309" y="3">Vbra 5804</text></g>
<g id="leaf86" transform="rotate(19.5)"><path class="d" d="M165 0H306"/><text x="309" y="3">Vbra 14153</text></g>
<g id="leaf87" transform="rotate(21.5)"><path class="d" d="M174 0H306"/><text x="309" y="3">Vbra 21823</text></g>
<g id="leaf88" transform="rotate(23.5)"><path class="d" d="M174 0H306"/><text x="309" y="3">Cvel 19648</text></g>
<g id="leaf89" transform="rotate(25.5)"><path class="d" d="M180 0H306"/><text x="309" y="3">Vbra 14402</text></g>
<g id="leaf90" transform="rotate(27.5)"><path class="d" d="M194 0H306"/><text x="309" y="3">Vbra 14816</text></g>
<g id="leaf91" transform="rotate(29.5)"><path class="d" d="M185 0H306"/><text x="309" y="3">Cvel 6028</text></g>
<g id="leaf92" transform="rotate(31.5)"><path class="d" d="M219 0H306"/><text x="309" y="3">TGME49 273885</text></g>
<g id="leaf93" transform="rotate(33.5)"><path class="d" d="M258 0H306"/><text x="309" y="3">Cvel 35819</text></g>
<g id="leaf94" transform="rotate(35.5)"><path class="d" d="M250 0H306"/><text x="309" y="3">Vbra 11093</text></g>
<g id="leaf95" transform="rotate(37.5)"><path class="d" d="M215 0H306"/><text x="309" y="3">TGME49 232100</text></g>
<g id="leaf96" transform="rotate(39.5)"><path class="d" d="M200 0H306"/><text x="309" y="3">Cvel 13956</text></g>
<g id="leaf97" transform="rotate(41.5)"><path class="d" d="M205 0H306"/><text x="309" y="3">Vbra 11573</text></g>
<g id="leaf98" transform="rotate(43.5)"><path class="d" d="M212 0H306"/><text x="309" y="3">Vbra 3242</text></g>
<g id="leaf99" transform="rotate(45.5)"><path class="d" d="M208 0H306"/><text x="309" y="3">Cvel 18131</text></g>
<g id="leaf100" transform="rotate(47.5)"><path class="d" d="M221 0H306"/><text x="309" y="3">PVX 091795</text></g>
<g id="leaf101" transform="rotate(49.5)"><path class="d" d="M222 0H306"/><text x="309" y="3">Vbra 14006</text></g>
<g id="leaf102" transform="rotate(51.5)"><path class="d" d="M218 0H306"/><text x="309" y="3">TGME49 289200</text></g>
<g id="leaf103" transform="rotate(53.5)"><path class="d" d="M215 0H306"/><text x="309" y="3">TGME49 271840</text></g>
<g id="leaf104" transform="rotate(55.5)"><path class="d" d="M190 0H306"/><text x="309" y="3">ETH 00032280</text></g>
<g id="leaf105" transform="rotate(57.5)"><path class="d" d="M175 0H306"/><text x="309" y="3">Vbra 4749</text></g>
<g id="leaf106" transform="rotate(59.5)"><path class="d" d="M178 0H306"/><text x="309" y="3">TGME49 237010</text></g>
<g id="leaf107" transform="rotate(61.5)"><path class="d" d="M205 0H306"/><text x="309" y="3">Cvel 12128</text></g>
<g id="leaf108" transform="rotate(63.5)"><path class="d" d="M210 0H306"/><text x="309" y="3">Cvel 14749</text></g>
<g id="leaf109" transform="rotate(65.5)"><path class="d" d="M212 0H306"/><text x="309" y="3">Cvel 15158</text></g>
<g id="leaf110" transform="rotate(67.5)"><path class="d" d="M215 0H306"/><text x="309" y="3">Cvel 12686</text></g>
<g id="leaf111" transform="rotate(69.5)"><path class="d" d="M210 0H306"/><text x="309" y="3">Cvel 5476</text></g>
<g id="leaf112" transform="rotate(71.5)"><path class="d" d="M207 0H306"/><text x="309" y="3">Cvel 14579</text></g>
<g id="leaf113" transform="rotate(73.5)"><path class="d" d="M205 0H306"/><text x="309" y="3">Vbra 14945</text></g>
<g id="leaf114" transform="rotate(75.5)"><path class="d" d="M215 0H306"/><text x="309" y="3">TGME49 202240</text></g>
<g id="leaf115" transform="rotate(77.5)"><path class="d" d="M210 0H306"/><text x="309" y="3">TGME49 211890</text></g>
<g id="leaf116" transform="rotate(79.5)"><path class="d" d="M200 0H306"/><text x="309" y="3">Cvel 33661</text></g>
<g id="leaf117" transform="rotate(81.5)"><path class="d" d="M202 0H306"/><text x="309" y="3">TGME49 254135</text></g>
<g id="leaf118" transform="rotate(83.5)"><path class="d" d="M192 0H306"/><text x="309" y="3">TGME49 202080</text></g>
<g id="leaf119" transform="rotate(85.5)"><path class="d" d="M195 0H306"/><text x="309" y="3">Vbra 9011</text></g>
<g id="leaf120" transform="rotate(87.5)"><path class="d" d="M200 0H306"/><text x="309" y="3">Vbra 19065</text></g>
<g id="leaf121" transform="rotate(89.5)"><path class="d" d="M221 0H306"/><text x="309" y="3">Cvel 17077</text></g>
<g id="leaf122" transform="rotate(91.5)"><path class="d" d="M211 0H306"/><text class="l" transform="rotate(180)" x="-309" y="3">Vbra 18012</text></g>
<g id="leaf123" transform="rotate(93.5)"><path class="d" d="M277 0H306"/><text class="l" transform="rotate(180)" x="-309" y="3">PVX 087915</text></g>
<g id="leaf124" transform="rotate(95.5)"><path class="d" d="M252 0H306"/><text class="l" transform="rotate(180)" x="-309" y="3">Cvel 11473</text></g>
<g id="leaf125" transform="rotate(97.5)"><path class="d" d="M267 0H306"/><text class="l" transform="rotate(180)" x="-309" y="3">Vbra 17347</text></g>
<g id="leaf126" transform="rotate(99.5)"><path class="d" d="M237 0H306"/><text class="l" transform="rotate(180)" x="-309" y="3">Cvel 26851</text></g>
<g id="leaf127" transform="rotate(101.5)"><path class="d" d="M257 0H306"/><text class="l" transform="rotate(180)" x="-309" y="3">Cvel 22452</text></g>
<g id="leaf128" transform="rotate(103.5)"><path class="d" d="M281 0H306"/><text class="l" transform="rotate(180)" x="-309" y="3">Cvel 16683</text></g>
<g id="leaf129" transform="rotate(105.5)"><path class="d" d="M251 0H306"/><text class="l" transform="rotate(180)" x="-309" y="3">Cvel 16871</text></g>
<g id="leaf130" transform="rotate(107.5)"><path class="d" d="M190 0H306"/><text class="l" transform="rotate(180)" x="-309" y="3">ETH 00003415</text></g>
<g id="leaf131" transform="rotate(109.5)"><path class="d" d="M200 0H306"/><text class="l" transform="rotate(180)" x="-309" y="3">TGME49 306950</text></g>
<g id="leaf132" transform="rotate(111.5)"><path class="d" d="M195 0H306"/><text class="l" transform="rotate(180)" x="-309" y="3">Cvel 6722</text></g>
<g id="leaf133" transform="rotate(113.5)"><path class="d" d="M200 0H306"/><text class="l" transform="rotate(180)" x="-309" y="3">Vbra 16845</text></g>
<g id="leaf134" transform="rotate(115.5)"><path class="d" d="M193 0H306"/><text class="l" transform="rotate(180)" x="-309" y="3">PVX 117800</text></g>
<g id="leaf135" transform="rotate(117.5)"><path class="d" d="M197 0H306"/><text class="l" transform="rotate(180)" x="-309" y="3">PVX 080445</text></g>
<g id="leaf136" transform="rotate(119.5)"><path class="d" d="M190 0H306"/><text class="l" transform="rotate(180)" x="-309" y="3">Vbra 7222</text></g>
<g id="leaf137" transform="rotate(121.5)"><path class="d" d="M205 0H306"/><text class="l" transform="rotate(180)" x="-309" y="3">TGME49 229340</text></g>
<g id="leaf138" transform="rotate(123.5)"><path class="d" d="M197 0H306"/><text class="l" transform="rotate(180)" x="-309" y="3">PVX 114740</text></g>
<g id="leaf139" transform="rotate(125.5)"><path class="d" d="M210 0H306"/><text class="l" transform="rotate(180)" x="-309" y="3">TGME49 237100</text></g>
<g id="leaf140" transform="rotate(127.5)"><path class="d" d="M216 0H306"/><text class="l" transform="rotate(180)" x="-309" y="3">PVX 123955</text></g>
<g id="leaf141" transform="rotate(129.5)"><path class="d" d="M199 0H306"/><text class="l" transform="rotate(180)" x="-309" y="3">ETH 00013200</text></g>
<g id="leaf142" transform="rotate(131.5)"><path class="d" d="M217 0H306"/><text class="l" transform="rotate(180)" x="-309" y="3">PVX 116940</text></g>
<g id="leaf143" transform="rotate(133.5)"><path class="d" d="M200 0H306"/><text class="l" transform="rotate(180)" x="-309" y="3">Vbra 19650</text></g>
<g id="leaf144" transform="rotate(135.5)"><path class="d" d="M206 0H306"/><text class="l" transform="rotate(180)" x="-309" y="3">Cvel 24639</text></g>
<g id="leaf145" transform="rotate(137.5)"><path class="d" d="M212 0H306"/><text class="l" transform="rotate(180)" x="-309" y="3">TGME49 285840</text></g>
<g id="leaf146" transform="rotate(139.5)"><path class="d" d="M221 0H306"/><text class="l" transform="rotate(180)" x="-309" y="3">TA11205</text></g>
<g id="leaf147" transform="rotate(141.5)"><path class="d" d="M215 0H306"/><text class="l" transform="rotate(180)" x="-309" y="3">Cvel 18845</text></g>
<g id="leaf148" transform="rotate(143.5)"><path class="d" d="M210 0H306"/><text class="l" transform="rotate(180)" x="-309" y="3">Vbra 20621</text></g>
<g id="leaf149" transform="rotate(145.5)"><path class="d" d="M225 0H306"/><text class="l" transform="rotate(180)" x="-309" y="3">TA21070</text></g>
<g id="leaf150" transform="rotate(147.5)"><path class="d" d="M231 0H306"/><text class="l" transform="rotate(180)" x="-309" y="3">PVX 091360</text></g>
<g id="leaf151" transform="rotate(149.5)"><path class="d" d="M215 0H306"/><text class="l" transform="rotate(180)" x="-309" y="3">Cvel 6030</text></g>
<g id="leaf152" transform="rotate(151.5)"><path class="d" d="M205 0H306"/><text class="l" transform="rotate(180)" x="-309" y="3">Vbra 21878</text></g>
<g id="leaf153" transform="rotate(153.5)"><path class="d" d="M210 0H306"/><text class="l" transform="rotate(180)" x="-309" y="3">TGME49 213420</text></g>
<g id="leaf154" transform="rotate(155.5)"><path class="d" d="M233 0H306"/><text class="l" transform="rotate(180)" x="-309" y="3">ETH 00008615</text></g>
<g id="leaf155" transform="rotate(157.5)"><path class="d" d="M210 0H306"/><text class="l" transform="rotate(180)" x="-309" y="3">Vbra 6246</text></g>
<g id="leaf156" transform="rotate(159.5)"><path class="d" d="M215 0H306"/><text class="l" transform="rotate(180)" x="-309" y="3">TGME49 269830</text></g>
<g id="leaf157" transform="rotate(161.5)"><path class="d" d="M195 0H306"/><text class="l" transform="rotate(180)" x="-309" y="3">Vbra 9204</text></g>
<g id="leaf158" transform="rotate(163.5)"><path class="d" d="M200 0H306"/><text class="l" transform="rotate(180)" x="-309" y="3">PVX 111480</text></g>
<g id="leaf159" transform="rotate(165.5)"><path class="d" d="M198 0H306"/><text class="l" transform="rotate(180)" x="-309" y="3">Cvel 6561</text></g>
<g id="leaf160" transform="rotate(167.5)"><path class="d" d="M190 0H306"/><text class="l" transform="rotate(180)" x="-309" y="3">Vbra 17713</text></g>
<g id="leaf161" transform="rotate(169.5)"><path class="d" d="M200 0H306"/><text class="l" transform="rotate(180)" x="-309" y="3">TGME49 225510</text></g>
<g id="leaf162" transform="rotate(171.5)"><path class="d" d="M205 0H306"/><text class="l" transform="rotate(180)" x="-309" y="3">ETH 00020555</text></g>
<g id="leaf163" transform="rotate(173.5)"><path class="d" d="M188 0H306"/><text class="l" transform="rotate(180)" x="-309" y="3">Vbra 4810</text></g>
<g id="leaf164" transform="rotate(175.5)"><path class="d" d="M192 0H306"/><text class="l" transform="rotate(180)" x="-309" y="3">TGME49 308030</text></g>
<g id="leaf165" transform="rotate(177.5)"><path class="d" d="M190 0H306"/><text class="l" transform="rotate(180)" x="-309" y="3">TGME49 267775</text></g>
<g id="leaf166" transform="rotate(179.5)"><path class="d" d="M190 0H306"/><text class="l" transform="rotate(180)" x="-309" y="3">Cvel 25898</text></g>
<g id="leaf167" transform="rotate(181.5)"><path class="d" d="M188 0H306"/><text class="l" transform="rotate(180)" x="-309" y="3">Vbra 12121</text></g>
<g id="leaf168" transform="rotate(183.5)"><path class="d" d="M200 0H306"/><text class="l" transform="rotate(180)" x="-309" y="3">TGME49 270150</text></g>
<g id="leaf169" transform="rotate(185.5)"><path class="d" d="M190 0H306"/><text class="l" transform="rotate(180)" x="-309" y="3">Cvel 2098</text></g>
<g id="leaf170" transform="rotate(187.5)"><path class="d" d="M185 0H306"/><text class="l" transform="rotate(180)" x="-309" y="3">TGME49 239350</text></g>
<g id="leaf171" transform="rotate(189.5)"><path class="d" d="M222 0H306"/><text class="l" transform="rotate(180)" x="-309" y="3">ETH 00031925</text></g>
<g id="leaf172" transform="rotate(191.5)"><path class="d" d="M233 0H306"/><text class="l" transform="rotate(180)" x="-309" y="3">ETH 00030415</text></g>
<g id="leaf173" transform="rotate(193.5)"><path class="d" d="M237 0H306"/><text class="l" transform="rotate(180)" x="-309" y="3">ETH 00016445</text></g>
<g id="leaf174" transform="rotate(195.5)"><path class="d" d="M277 0H306"/><text class="l" transform="rotate(180)" x="-309" y="3">ETH 00033875</text></g>
<g id="leaf175" transform="rotate(197.5)"><path class="d" d="M214 0H306"/><text class="l" transform="rotate(180)" x="-309" y="3">ETH 00016330</text></g>
</g>
</svg>
